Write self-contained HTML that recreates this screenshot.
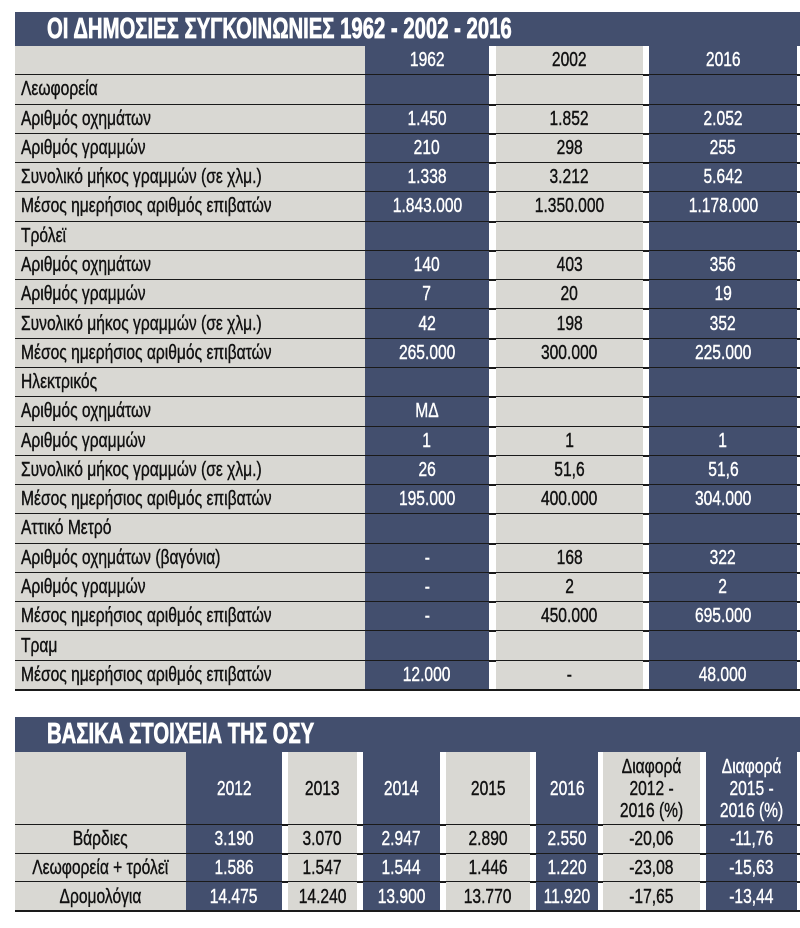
<!DOCTYPE html>
<html><head><meta charset="utf-8"><style>
body{margin:0;width:800px;height:928px;background:#fff;position:relative;overflow:hidden;font-family:"Liberation Sans",sans-serif;}
.a{position:absolute;box-sizing:border-box;}
.n{background:#434f6e;color:#fff;}
.g{background:#d9d8d3;color:#111;}
.t{font-size:20px;display:flex;align-items:center;justify-content:center;}
.l{font-size:20px;display:flex;align-items:center;padding-left:6px;color:#111;}
.s{display:inline-block;transform:scaleX(0.78);white-space:nowrap;-webkit-text-stroke:0.4px currentColor;}
.l .s{transform-origin:left center;}
.line{position:absolute;height:2px;background:#1a1a1a;}
.title{color:#fff;font-weight:bold;font-size:29px;display:flex;align-items:center;padding-left:32px;}
.title .s{transform:scaleX(0.7);transform-origin:left center;-webkit-text-stroke:0.8px #fff;}
</style></head><body>
<div class="a n title" style="left:15px;top:12px;width:785px;height:34px;"><span class="s">ΟΙ ΔΗΜΟΣΙΕΣ ΣΥΓΚΟΙΝΩΝΙΕΣ 1962 - 2002 - 2016</span></div>
<div id="t1"></div>
<div class="a n title" style="left:15px;top:717px;width:785px;height:35px;"><span class="s">ΒΑΣΙΚΑ ΣΤΟΙΧΕΙΑ ΤΗΣ ΟΣΥ</span></div>
<div id="t2"></div>
<script>
var h='';
var rows=[["","1962","2002","2016"],["Λεωφορεία","","",""],["Αριθμός οχημάτων","1.450","1.852","2.052"],["Αριθμός γραμμών","210","298","255"],["Συνολικό μήκος γραμμών (σε χλμ.)","1.338","3.212","5.642"],["Μέσος ημερήσιος αριθμός επιβατών","1.843.000","1.350.000","1.178.000"],["Τρόλεϊ","","",""],["Αριθμός οχημάτων","140","403","356"],["Αριθμός γραμμών","7","20","19"],["Συνολικό μήκος γραμμών (σε χλμ.)","42","198","352"],["Μέσος ημερήσιος αριθμός επιβατών","265.000","300.000","225.000"],["Ηλεκτρικός","","",""],["Αριθμός οχημάτων","ΜΔ","",""],["Αριθμός γραμμών","1","1","1"],["Συνολικό μήκος γραμμών (σε χλμ.)","26","51,6","51,6"],["Μέσος ημερήσιος αριθμός επιβατών","195.000","400.000","304.000"],["Αττικό Μετρό","","",""],["Αριθμός οχημάτων (βαγόνια)","-","168","322"],["Αριθμός γραμμών","-","2","2"],["Μέσος ημερήσιος αριθμός επιβατών","-","450.000","695.000"],["Τραμ","","",""],["Μέσος ημερήσιος αριθμός επιβατών","12.000","-","48.000"]];
var cols=[[15,365,'g'],[365,489,'n'],[496,643,'g'],[649,797,'n']];
var rh=(690-46)/22;
for(var r=0;r<rows.length;r++){var y=46+r*rh;
for(var c=0;c<4;c++){var cl=cols[c];
h+='<div class="a '+cl[2]+' '+(c==0?'l':'t')+'" style="left:'+cl[0]+'px;top:'+y+'px;width:'+(cl[1]-cl[0])+'px;height:'+rh+'px;"><span class="s">'+rows[r][c]+'</span></div>';}
h+='<div class="line" style="left:15px;width:785px;top:'+(y+rh-1)+'px;"></div>';}
document.getElementById('t1').outerHTML=h;
h='';
var c2=[[15,186,'g'],[186,282,'n'],[288,357,'g'],[363,440,'n'],[446,530,'g'],[536,598,'n'],[603,700,'g'],[706,797,'n']];
var r2=[["","2012","2013","2014","2015","2016","Διαφορά<br>2012 -<br>2016 (%)","Διαφορά<br>2015 -<br>2016 (%)"],["Βάρδιες","3.190","3.070","2.947","2.890","2.550","-20,06","-11,76"],["Λεωφορεία + τρόλεϊ","1.586","1.547","1.544","1.446","1.220","-23,08","-15,63"],["Δρομολόγια","14.475","14.240","13.900","13.770","11.920","-17,65","-13,44"]];
var ys=[752,825,853.5,882,911];
for(var r=0;r<4;r++){for(var c=0;c<8;c++){var cl=c2[c];
h+='<div class="a '+cl[2]+' t" style="left:'+cl[0]+'px;top:'+ys[r]+'px;width:'+(cl[1]-cl[0])+'px;height:'+(ys[r+1]-ys[r])+'px;text-align:center;line-height:1.1;"><span class="s">'+r2[r][c]+'</span></div>';}
h+='<div class="line" style="left:15px;width:785px;top:'+(ys[r+1]-1)+'px;"></div>';}
document.getElementById('t2').outerHTML=h;
</script>
</body></html>
